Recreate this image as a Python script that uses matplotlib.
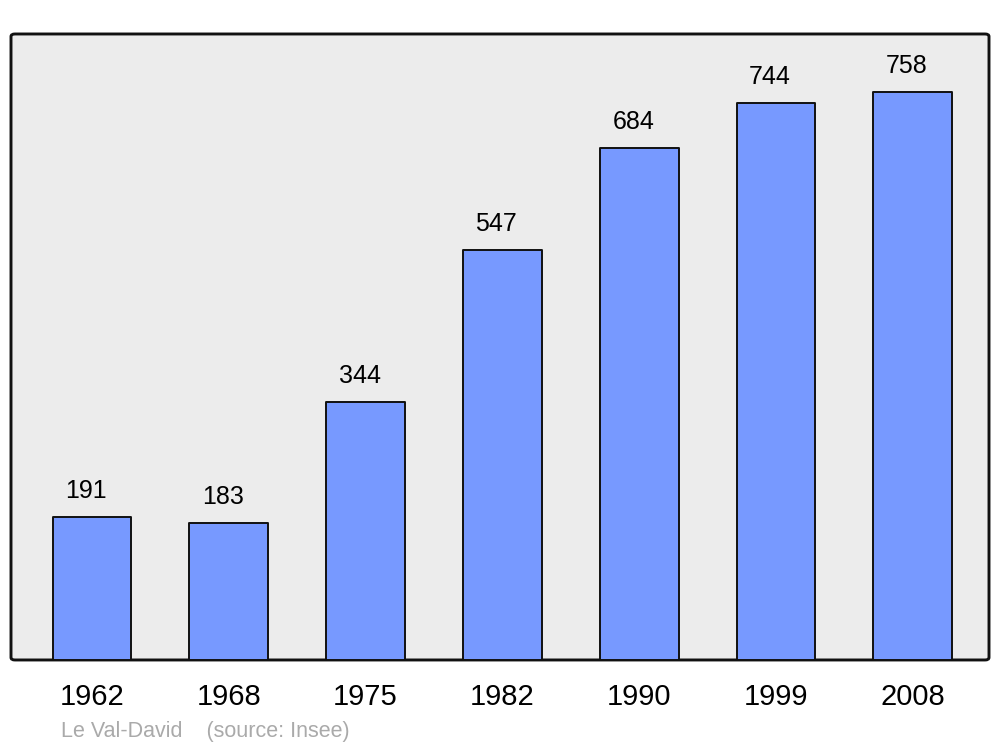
import matplotlib
matplotlib.use("Agg")
import matplotlib.pyplot as plt
from matplotlib.patches import FancyBboxPatch

years = ["1962", "1968", "1975", "1982", "1990", "1999", "2008"]
population = [191, 183, 344, 547, 684, 744, 758]
footer = "Le Val-David    (source: Insee)"

plt.rcParams['font.family'] = ['Liberation Sans', 'DejaVu Sans']

fig = plt.figure(figsize=(10, 7.47), dpi=100)
ax = fig.add_axes([0.011, 0.1165, 0.978, 0.838])
ax.set_facecolor('none')

# rounded background frame
frame = FancyBboxPatch((0, 0), 1, 1, boxstyle="round,pad=0,rounding_size=0.004",
                       transform=ax.transAxes, facecolor='#ececec', edgecolor='#111111',
                       linewidth=2.1, zorder=0, clip_on=False)
ax.add_patch(frame)
for s in ax.spines.values():
    s.set_visible(False)

x = list(range(len(years)))
bars = ax.bar(x, population, width=0.575, color='#7799ff', edgecolor='#111111',
              linewidth=1.4, zorder=2)
for b in bars:
    b.set_joinstyle('round')

for xi, v in zip(x, population):
    ax.annotate(str(v), xy=(xi, v), xytext=(-6, 19), textcoords='offset pixels',
                ha='center', va='baseline', fontsize=18, color='black', zorder=3)

ax.set_xlim(-0.592, 6.557)
ax.set_ylim(0, 835.6)
ax.set_yticks([])
ax.set_xticks(x)
ax.set_xticklabels(years, fontsize=21)
ax.tick_params(axis='x', length=0, pad=16.5)

fig.text(0.061, 0.0134, footer, fontsize=15.5, color='#aaaaaa', ha='left', va='baseline')

fig.savefig('out.png', dpi=100)
